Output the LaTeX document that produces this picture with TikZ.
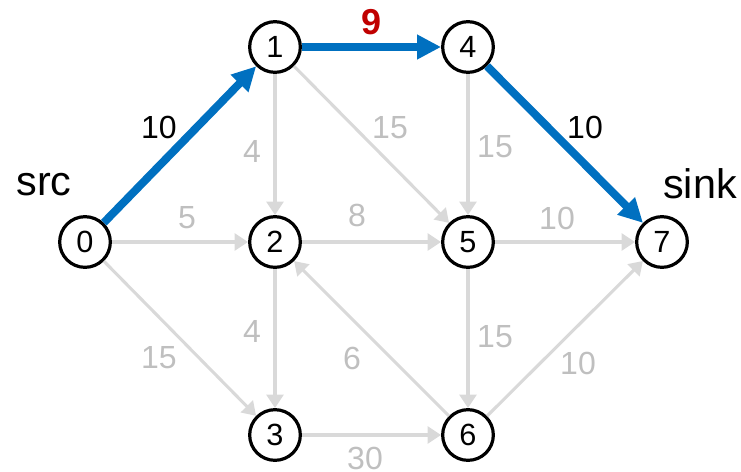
\documentclass[tikz,border=0pt]{standalone}
\usepackage{fontspec}
\setmainfont{Liberation Sans}
\usetikzlibrary{arrows.meta}
\definecolor{flowblue}{HTML}{0070C0}
\definecolor{edgegray}{HTML}{D9D9D9}
\definecolor{lblgray}{HTML}{BFBFBF}
\definecolor{capred}{HTML}{C00000}
\begin{document}
\begin{tikzpicture}[x=0.75pt,y=-0.75pt,
  vtx/.style={circle,draw=black,line width=2.4pt,fill=white,minimum size=38pt,inner sep=0pt,font=\fontsize{23}{23}\selectfont},
  res/.style={draw=edgegray,line width=2.3pt,-{Triangle[length=10pt,width=12.5pt]}},
  aug/.style={draw=flowblue,line width=6pt,-{Triangle[length=18pt,width=17.5pt]}},
  wgt/.style={font=\fontsize{24}{24}\selectfont,text=lblgray,inner sep=0pt},
  wgtpath/.style={font=\fontsize{24}{24}\selectfont,text=black,inner sep=0pt},
  tag/.style={font=\fontsize{31}{31}\selectfont,inner sep=0pt}]
\useasboundingbox (0,0) rectangle (741,471);
% ================= Vertices =================
\node[vtx] (n0) at (85,242) {0};
\node[vtx] (n1) at (275,47) {1};
\node[vtx] (n2) at (275,242) {2};
\node[vtx] (n3) at (275,435) {3};
\node[vtx] (n4) at (468,47) {4};
\node[vtx] (n5) at (468,242) {5};
\node[vtx] (n6) at (468,435) {6};
\node[vtx] (n7) at (662,242) {7};
\node[tag] (src) at (44,185) {src};
\node[tag] (sink) at (700,184) {sink};

% ================= Residual edges =================
\draw[res] (n0) -- (n2);
\draw[res] (n0) -- (n3);
\draw[res] (n1) -- (n2);
\draw[res] (n1) -- (n5);
\draw[res] (n2) -- (n5);
\draw[res] (n2) -- (n3);
\draw[res] (n3) -- (n6);
\draw[res] (n6) -- (n2);
\draw[res] (n4) -- (n5);
\draw[res] (n5) -- (n7);
\draw[res] (n5) -- (n6);
\draw[res] (n6) -- (n7);

% ================= Augmenting path =================
\draw[aug] (n0) -- (n1);
\draw[aug] (n1) -- (n4);
\draw[aug] (n4) -- (n7);

% ================= Capacities =================
\node[wgtpath] (w01) at (159,127) {10};
\node[font=\fontsize{27}{27}\selectfont\bfseries,text=capred,inner sep=0pt] (w14) at (372,22) {9};
\node[wgtpath] (w47) at (585,127) {10};
\node[wgt] (w12) at (252,151) {4};
\node[wgt] (w15) at (390,128) {15};
\node[wgt] (w45) at (495,147) {15};
\node[wgt] (w02) at (187,218) {5};
\node[wgt] (w25) at (357,215) {8};
\node[wgt] (w57) at (557,218) {10};
\node[wgt] (w23) at (252,331) {4};
\node[wgt] (w03) at (159,358) {15};
\node[wgt] (w62) at (352,358) {6};
\node[wgt] (w56) at (495,337) {15};
\node[wgt] (w67) at (578,363) {10};
\node[wgt] (w36) at (365,458) {30};
\end{tikzpicture}
\end{document}
